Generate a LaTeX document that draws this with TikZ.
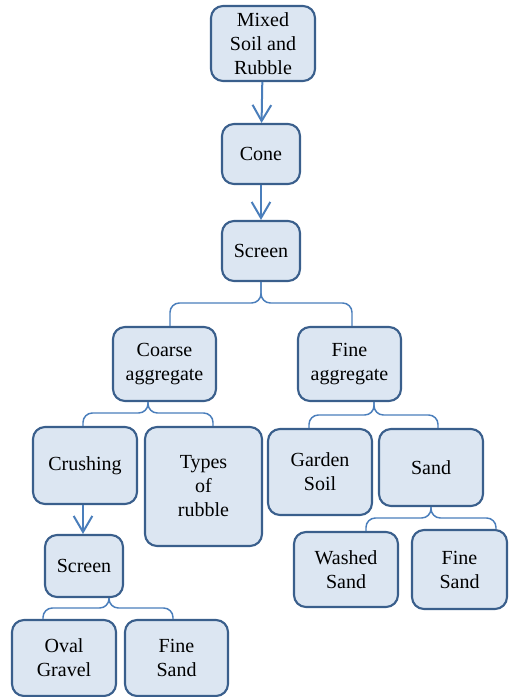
\documentclass[tikz,border=0pt]{standalone}
\usepackage{fontspec}
\setmainfont{Liberation Serif}
\newfontfamily\tnrfont{Liberation Serif}
\usetikzlibrary{arrows.meta}
\definecolor{boxfill}{HTML}{DCE6F2}
\definecolor{boxline}{HTML}{3A5F8C}
\definecolor{connline}{HTML}{4A7EBB}
\begin{document}
\begin{tikzpicture}[x=0.75pt,y=-0.75pt,
  bx/.style={draw=boxline,line width=1.6pt,fill=boxfill,rounded corners=9pt,
    align=center,inner sep=0pt,font=\tnrfont\fontsize{15}{18}\selectfont},
  conn/.style={draw=connline,line width=1.1pt,rounded corners=7pt},
  arr/.style={draw=connline,line width=1.5pt,-{Straight Barb[length=12pt,width=14pt,line width=1.5pt]}}]
\useasboundingbox (0,0) rectangle (508,697);
\node[bx,minimum width=78pt,minimum height=56.25pt] (mix) at (263,43.5) {Mixed\\Soil and\\Rubble};
\node[bx,minimum width=58.5pt,minimum height=45pt] (cone) at (261,154) {Cone};
\node[bx,minimum width=58.5pt,minimum height=45pt] (scr) at (261,251) {Screen};
\node[bx,minimum width=77.25pt,minimum height=55.5pt] (coarse) at (164.5,364) {Coarse\\aggregate};
\node[bx,minimum width=77.25pt,minimum height=55.5pt] (fine) at (349.5,364) {Fine\\aggregate};
\node[bx,minimum width=78pt,minimum height=57.75pt] (crush) at (85,465.5) {Crushing};
\node[bx,minimum width=87.75pt,minimum height=89.25pt] (types) at (203.5,486.5) {Types\\of\\rubble};
\node[bx,minimum width=58.5pt,minimum height=46.5pt] (scr2) at (84,566) {Screen};
\node[bx,minimum width=78pt,minimum height=57pt] (oval) at (64,658) {Oval\\Gravel};
\node[bx,minimum width=77.25pt,minimum height=57pt] (fsl) at (176.5,658) {Fine\\Sand};
\node[bx,minimum width=78pt,minimum height=64.5pt] (garden) at (320,472) {Garden\\Soil};
\node[bx,minimum width=78pt,minimum height=57.75pt] (sand) at (431,467.5) {Sand};
\node[bx,minimum width=78pt,minimum height=56.25pt] (washed) at (346,569.5) {Washed\\Sand};
\node[bx,minimum width=71.25pt,minimum height=59.25pt] (fsr) at (459.5,569.5) {Fine\\Sand};
% arrows
\draw[arr] (mix) -- (cone);
\draw[arr] (cone) -- (scr);
\draw[arr] (crush.south -| 83,0) -- (scr2.north -| 83,0);
% braces
\draw[conn] (scr.south) |- (170,303) -- (coarse.north -| 170,0);
\draw[conn] (scr.south) |- (352,303) -- (fine.north -| 352,0);
\draw[conn] (coarse.south -| 148,0) |- (83,413) -- (crush.north -| 83,0);
\draw[conn] (coarse.south -| 148,0) |- (213,413) -- (types.north -| 213,0);
\draw[conn] (fine.south -| 374,0) |- (309,415) -- (garden.north -| 309,0);
\draw[conn] (fine.south -| 374,0) |- (438,415) -- (sand.north -| 438,0);
\draw[conn] (sand.south) |- (366,518) -- (washed.north -| 366,0);
\draw[conn] (sand.south) |- (496,518) -- (fsr.north -| 496,0);
\draw[conn] (scr2.south -| 109,0) |- (43,608) -- (oval.north -| 43,0);
\draw[conn] (scr2.south -| 109,0) |- (173,608) -- (fsl.north -| 173,0);
\end{tikzpicture}
\end{document}
